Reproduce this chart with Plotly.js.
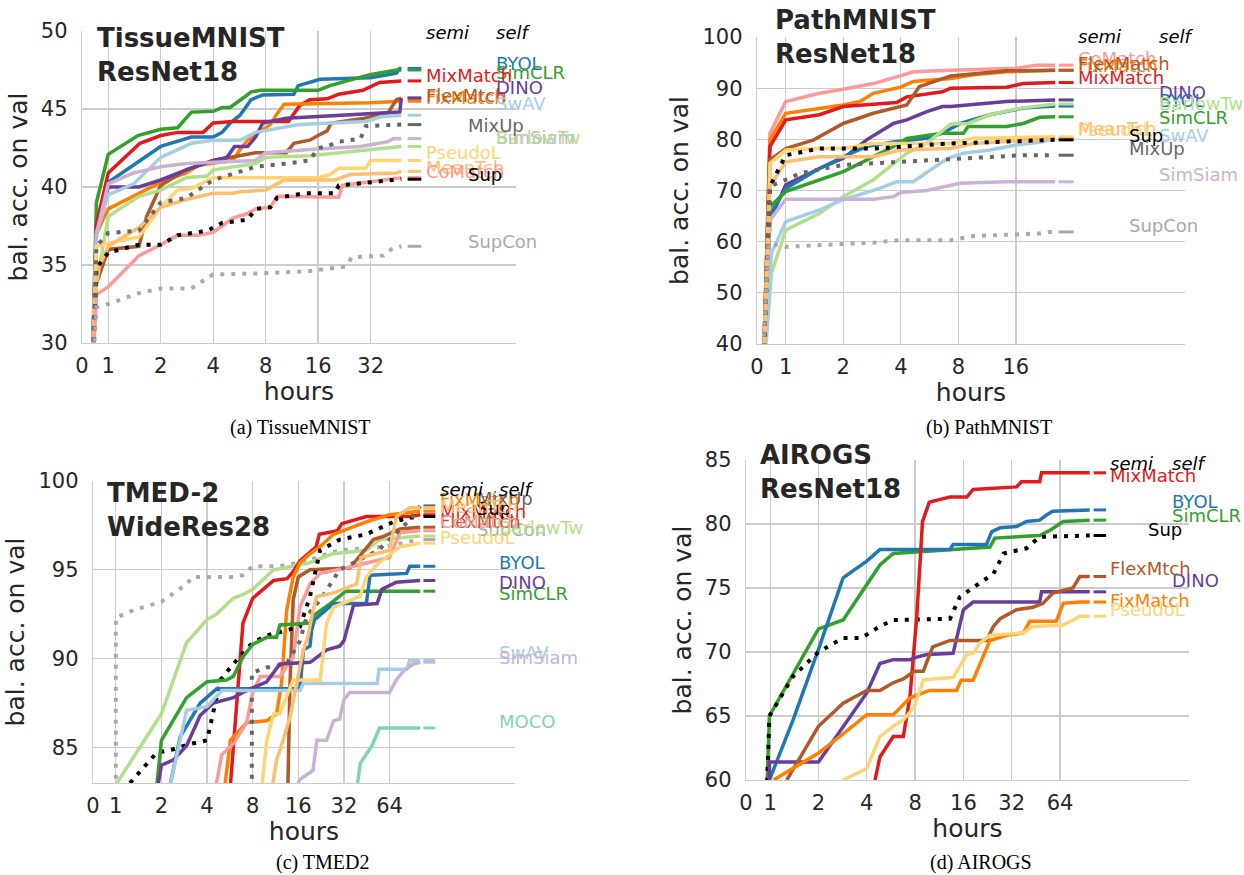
<!DOCTYPE html>
<html><head><meta charset="utf-8">
<script src="https://cdn.plot.ly/plotly-3.0.1.min.js"></script>
<style>html,body{margin:0;padding:0;background:#fff}#chart{width:1244px;height:875px}</style>
</head><body><div id="chart"></div>
<script>
// ===================== DATA (hours, balanced accuracy %) =====================
// (a) TissueMNIST ResNet18
const A_BYOL     = [[0.38,28],[0.55,37.4],[1,40.3],[2,42.6],[3,43.2],[4,43.2],[4.5,43.5],[5,44.1],[5.7,44.6],[6.6,45.6],[7.7,45.9],[11.6,45.95],[12.3,46.5],[16.4,46.9],[32,47.0],[45,47.3],[47,47.6],[48,47.6]];
const A_SimCLR   = [[0.38,28],[0.55,39.0],[1,42.1],[1.48,43.3],[2,43.7],[2.5,43.8],[3,44.8],[4,44.85],[4.5,45.1],[5,45.1],[6.1,45.8],[6.6,46.1],[7.5,46.2],[16,46.2],[18.7,46.5],[31.7,47.2],[45,47.5],[48,47.5]];
const A_MixMatch = [[0.38,28],[0.55,37.6],[1,40.9],[1.52,42.8],[2,43.3],[2.5,43.5],[3.5,43.5],[4,44.1],[5.2,44.2],[10.8,44.2],[12.5,45.2],[14.3,45.6],[18,45.65],[21,45.95],[28.9,46.2],[36,46.7],[48,46.8]];
const A_FixMatch = [[0.38,28],[0.55,37.0],[1,38.6],[1.5,39.6],[2,40.3],[2.8,40.9],[3.3,41.4],[5.2,41.7],[5.7,42.4],[6.3,43.0],[7.7,43.7],[8.5,44.0],[9.3,44.7],[10.2,45.3],[32,45.4],[48,45.5]];
const A_FlexMatch= [[0.38,28],[0.55,33.8],[1,36.0],[1.5,36.2],[1.66,38.1],[2,40.1],[2.8,41.1],[4,41.7],[7,42.2],[10.5,42.2],[11.6,42.8],[14.3,43.0],[16,43.3],[18,43.6],[19,44.1],[29,44.4],[40,44.7],[45,45.6],[48,45.7]];
const A_DINO     = [[0.38,28],[0.55,37.0],[1,40.0],[1.5,40.0],[2,40.45],[2.8,41.1],[4,41.7],[4.8,41.9],[5.3,42.6],[6.3,42.6],[7,43.2],[7.7,44.1],[10.5,44.4],[23,44.6],[47,44.8],[48,45.7]];
const A_SwAV     = [[0.38,28],[0.55,37.0],[1,39.5],[1.4,40.2],[2,41.9],[3,42.8],[4,43.0],[5.7,43.0],[7,43.5],[12.5,44.0],[30,44.2],[36.6,44.5],[48,44.6]];
const A_SimSiam  = [[0.38,28],[0.55,37.0],[1,40.2],[1.4,40.9],[2,41.3],[2.8,41.5],[7,41.7],[8,42.2],[14.3,42.4],[28,42.6],[40,42.9],[43,43.1],[48,43.1]];
const A_BarlowTw = [[0.38,28],[0.55,33.8],[1,38.1],[1.5,39.4],[2,39.8],[2.8,40.6],[3.7,40.7],[4,41.1],[7,41.5],[8,41.9],[14.3,42.0],[48,42.6]];
const A_PseudoL  = [[0.4,28],[0.55,36.2],[1,36.4],[1.5,36.8],[2,38.7],[2.5,39.8],[3,39.9],[4,40.6],[16,40.6],[18.7,40.8],[21,41.2],[30,41.2],[32,41.7],[48,41.7]];
const A_MeanTch  = [[0.4,28],[0.55,34.5],[1,36.2],[1.5,37.4],[2,38.7],[2.8,39.2],[4,39.6],[5.2,39.6],[5.7,39.7],[8,39.8],[9.3,40.2],[10.2,40.45],[20,40.45],[24.4,40.8],[45,40.9],[48,41.0]];
const A_CoMatch  = [[0.4,28],[0.55,33.1],[1,33.6],[1.5,35.6],[2,36.3],[2.5,36.9],[3.3,36.9],[4,37.1],[5.2,38.0],[6.3,38.3],[7,38.6],[8.5,38.7],[9.3,39.4],[21,39.35],[22,40.1],[40,40.5],[48,40.6]];
const A_Sup      = [[0.4,28],[0.55,34.8],[1,35.8],[1.5,36.3],[2,36.3],[2.5,36.9],[3.7,37.2],[4.5,37.7],[6.3,37.9],[7,38.6],[8.5,38.7],[9.3,39.3],[13.4,39.6],[20,39.6],[21,40.1],[45,40.45],[48,40.5]];
const A_MixUp    = [[0.4,28],[0.55,36.2],[1,37.05],[1.5,37.2],[2,39.0],[2.8,39.3],[4,40.45],[5.7,41.0],[7,41.3],[10.5,41.5],[14.3,41.7],[16,42.5],[18,42.6],[21,42.9],[28,43.1],[30,43.9],[48,44.0]];
const A_SupCon   = [[0.4,28],[0.55,32.3],[1,32.5],[1.5,33.2],[2,33.5],[3,33.5],[4,34.4],[7,34.45],[14,34.6],[23,34.9],[25,35.5],[38,35.6],[42,36.0],[48,36.2]];

// (b) PathMNIST ResNet18
const B_CoMatch  = [[0.22,35],[0.45,81.2],[1,87.4],[1.5,89.0],[2,89.8],[2.87,90.9],[3.97,92.4],[4.65,93.2],[7.3,93.5],[16,93.9],[20.5,94.5],[25.7,94.5]];
const B_FixMatch = [[0.22,35],[0.45,79.9],[1,85.1],[1.5,86.1],[2,86.7],[2.45,87.4],[2.87,89.0],[4,90.2],[4.65,91.3],[7.3,91.9],[9.6,92.6],[14.3,93.2],[25.7,93.5]];
const B_MixMatch = [[0.22,35],[0.45,78.6],[1,83.8],[1.5,84.8],[2,86.4],[3.1,87.0],[3.8,87.2],[4.3,88.3],[5.3,88.8],[6.6,89.3],[7.3,90.0],[14.3,90.2],[17.5,90.9],[25.7,91.1]];
const B_FlexMatch= [[0.22,35],[0.45,76.0],[1,78.2],[1.4,79.9],[2,83.1],[2.87,85.1],[4.3,86.7],[5.0,90.3],[7.3,92.4],[14.3,93.4],[25.7,93.5]];
const B_DINO     = [[0.22,35],[0.45,64.2],[1,71.1],[1.5,74.3],[2,76.3],[2.65,79.9],[3.66,83.1],[4.3,83.8],[5.47,85.4],[6.6,86.4],[7.3,86.4],[14.3,87.4],[25.7,87.7]];
const B_BYOL     = [[0.22,35],[0.45,65.2],[1,70.4],[1.5,74.3],[2,76.6],[2.65,78.6],[3.66,79.5],[5.47,80.2],[6.6,81.2],[7.3,82.0],[8.2,83.1],[11.7,84.8],[17.5,86.1],[25.7,86.5]];
const B_SimCLR   = [[0.22,35],[0.45,66.8],[1,69.8],[1.5,72.1],[2,73.7],[2.45,75.3],[3.66,78.6],[4.3,80.2],[6.6,81.2],[8.5,81.2],[9,82.5],[14.3,82.5],[17.5,83.1],[21.3,84.3],[25.7,84.4]];
const B_BarlowTw = [[0.25,35],[0.5,53.8],[1,62.3],[1.5,65.5],[2,68.8],[2.87,72.1],[4.3,77.3],[5.47,79.2],[7.3,83.0],[9,83.1],[11.7,84.8],[17,86.1],[25.7,86.9]];
const B_SwAV     = [[0.25,35],[0.5,57.7],[1,63.9],[1.5,66.2],[2,68.2],[3.1,70.4],[3.8,71.7],[4.65,71.7],[6.6,75.6],[7.3,76.5],[8.5,77.3],[11.7,77.9],[16,78.9],[22,79.5],[25.7,80.2]];
const B_SimSiam  = [[0.22,35],[0.45,64.2],[1,68.3],[2.87,68.3],[3.66,68.8],[4.0,69.6],[5.47,70.0],[6.6,70.7],[7.3,70.9],[8.2,71.4],[14.3,71.7],[25.7,71.7]];
const B_PseudoL  = [[0.22,35],[0.45,75.3],[1,77.9],[1.5,78.2],[2,78.2],[2.87,79.2],[7.3,79.2],[9.6,80.2],[25.7,80.5]];
const B_MeanTch  = [[0.22,35],[0.45,70.8],[1,75.6],[1.5,76.6],[2.87,76.6],[3.97,77.9],[7.3,78.2],[9.6,79.2],[25.7,80.2]];
const B_Sup      = [[0.22,35],[0.45,70.8],[1,76.9],[1.5,78.2],[2.87,78.2],[7.3,79.2],[25.7,79.9]];
const B_MixUp    = [[0.22,35],[0.45,70.8],[1,72.1],[1.2,73.4],[2,75.0],[2.87,75.3],[7.3,76.0],[17.5,76.9],[25.7,76.9]];
const B_SupCon   = [[0.18,35],[0.4,59.7],[1,59.0],[1.5,59.3],[2.87,59.8],[3.97,60.3],[7.3,60.3],[9.6,61.1],[21.3,61.6],[24,61.9],[25.7,61.9]];

// (c) TMED-2 WideRes28
const C_SupCon   = [[1,82],[1,92.3],[1.31,92.73],[2,93.2],[2.93,94.2],[3.2,94.6],[5.96,94.6],[6.9,94.7],[8,95.2],[12,95.2],[19,95.5],[21,95.7],[30,96.1],[60,96.3],[102,96.7]];
const C_BarlowTw = [[0.95,82.8],[2,86.9],[2.93,90.9],[4,92.2],[4.6,92.5],[5.96,93.4],[6.9,93.6],[8,93.9],[11,95.0],[19,95.4],[27,95.9],[45,96.1],[55,96.7],[102,96.9]];
const C_MixMatch = [[5.6,82],[5.96,85.1],[6.9,92.0],[8,93.4],[9.3,93.9],[11,94.4],[13.5,94.5],[14.8,94.9],[16.4,95.5],[19.1,96.0],[21,96.3],[22,97.0],[29,97.2],[31,97.6],[45,98.0],[87,98.0],[102,98.1]];
const C_FixMatch = [[5.1,82],[5.7,85.4],[7.3,86.4],[9.9,86.5],[11.5,86.9],[12.4,88.6],[13.4,92.7],[14.8,94.6],[16.4,95.4],[19.1,95.9],[22.3,96.3],[27.3,97.0],[45,97.7],[64,98.1],[102,98.3]];
const C_FlexMatch= [[13.6,82],[14.1,88.6],[14.8,93.3],[16,94.6],[19.1,95.0],[35,95.1],[50,96.7],[59,96.9],[75,97.3],[102,97.4]];
const C_CoMatch  = [[4.4,82],[5.0,84.6],[5.96,85.2],[7.3,86.4],[8,88.1],[9,89.0],[12.1,89.0],[14.8,90.1],[16.4,92.9],[19.1,94.2],[22.3,94.8],[33,95.1],[64,95.7],[75,97.1],[102,97.2]];
const C_Sup      = [[1.24,83],[1.44,83.6],[1.86,84.7],[2.4,84.9],[3.1,85.2],[4,85.4],[4.4,86.9],[4.9,88.8],[5.96,89.7],[8,90.9],[9.9,91.3],[13.4,91.6],[16.4,91.8],[19.1,93.5],[22.3,96.1],[30,96.7],[45,97.0],[68,97.7],[83,97.9],[102,98.0]];
const C_MixUp    = [[7.9,82],[7.9,89.2],[9.9,89.5],[13.4,89.7],[16.4,91.0],[18.2,92.4],[22.3,93.3],[30,95.0],[54,96.1],[87,97.8],[102,98.6]];
const C_SimCLR   = [[1.82,82],[2,85.4],[2.93,87.8],[4,88.7],[5.38,88.8],[5.96,89.0],[6.9,90.1],[8,90.8],[9.9,91.2],[11.5,91.2],[12.1,91.9],[19.1,92.0],[20,92.4],[26,93.1],[33,93.8],[102,93.8]];
const C_BYOL     = [[2.17,82],[2.66,85.6],[3.6,87.5],[4.63,88.3],[16.4,88.3],[17.3,90.5],[19.1,90.7],[19.6,91.6],[20.5,92.2],[27.3,93.1],[45,93.1],[47.6,94.7],[83,94.8],[87,95.2],[102,95.2]];
const C_DINO     = [[1.91,83],[2,84.0],[2.4,84.3],[2.93,85.1],[3.6,86.8],[4.4,87.5],[5.96,87.8],[6.9,88.1],[9.9,88.7],[12.1,89.7],[19.1,89.8],[20,89.9],[24.6,90.5],[30,90.7],[32,91.0],[37,93.0],[53,93.1],[57,93.9],[71,94.3],[102,94.4]];
const C_SwAV     = [[2.17,82],[2.93,87.1],[4,87.3],[5.0,88.2],[16.4,88.2],[17.3,88.6],[53,88.6],[54.5,89.4],[83,89.4],[87,89.9],[102,89.9]];
const C_SimSiam  = [[15,82.5],[16.4,83.2],[20,83.7],[21.2,85.4],[24.6,85.4],[27.3,86.5],[30,86.6],[32,87.7],[35,88.1],[64,88.1],[71,88.8],[79,89.3],[92,89.7],[102,89.8]];
const C_MOCO     = [[38,82],[41,84.1],[49,85.1],[55,86.1],[102,86.1]];
const C_PseudoL  = [[9.0,82],[9.9,85.4],[11,86.9],[12.1,86.9],[14.8,88.8],[22.3,88.8],[24.6,92.0],[27.3,92.9],[40.8,93.5],[45,94.6],[53,95.3],[75,96.3],[102,96.5]];
const C_MeanTch  = [[10.4,82],[11.5,84.3],[12.7,85.4],[14.1,86.7],[15.6,88.6],[17.3,90.5],[18.5,91.2],[20,92.7],[21.2,93.5],[27.3,93.7],[38.8,94.2],[41.6,95.7],[64,96.1],[71,98.0],[87,98.5],[102,98.5]];

// (d) AIROGS ResNet18
const D_SimCLR   = [[0.86,59],[0.97,65],[1.39,68.3],[2,71.8],[2.85,72.5],[4,75.2],[4.83,76.8],[5.85,77.7],[8,77.8],[13.2,78.0],[23.4,78.2],[25.1,78.9],[47.8,79.1],[55.3,79.5],[67,80.2],[98,80.3]];
const D_BYOL     = [[0.97,60],[1.39,64.7],[2,70.2],[2.85,75.8],[4,77.1],[4.83,78.0],[13.2,78.0],[13.8,78.4],[22.3,78.4],[24,79.4],[27.1,79.7],[34.3,79.8],[39.6,80.2],[47.8,80.3],[52.7,80.7],[57.7,81.0],[98,81.1]];
const D_Sup      = [[0.86,59],[0.97,65],[1.39,68.1],[2,70.0],[2.85,71.1],[3.7,71.1],[4.83,72.0],[5.85,72.5],[13.2,72.6],[15.2,74.3],[20.3,75.4],[24.6,76.1],[28.5,77.7],[39.6,78.1],[47.8,79.0],[98,79.1]];
const D_MixMatch = [[4.5,60],[4.83,61.8],[5.85,63.4],[6.76,63.4],[7.43,66.5],[8.2,72.8],[8.9,80.2],[9.8,81.7],[11.3,81.9],[13.2,82.1],[16.8,82.1],[18.4,82.7],[34.3,82.9],[36.8,83.3],[47.8,83.3],[49.1,84.0],[98,84.0]];
const D_DINO     = [[0.97,59],[0.97,61.4],[2,61.4],[2.85,64.2],[4,66.8],[4.83,69.1],[5.85,69.4],[7.43,69.4],[8.2,69.6],[9.5,69.8],[13.8,69.9],[16,73.3],[18.4,73.9],[47.8,73.9],[49.1,74.7],[98,74.7]];
const D_FlexMatch= [[1.27,60],[2,64.2],[2.85,66.0],[4,67.0],[4.83,67.0],[5.85,67.6],[6.76,67.9],[7.9,68.5],[9,68.5],[10.3,70.4],[13.2,70.9],[22.3,70.9],[24.6,72.0],[27.1,72.6],[34.3,73.3],[43.4,73.5],[50.2,73.8],[57.7,74.6],[77,75.0],[85,75.9],[98,75.9]];
const D_FixMatch = [[1.05,60],[2,62.1],[2.85,63.6],[4,65.1],[5.85,65.1],[7.43,66.4],[9.8,67.0],[14.5,67.0],[15.5,67.8],[18.4,67.8],[23.4,70.9],[29.7,71.3],[37.8,71.5],[41.5,72.4],[60.6,72.4],[67,73.8],[85,73.9],[98,73.9]];
const D_PseudoL  = [[2.85,60],[4,60.9],[4.83,63.4],[5.85,64.2],[6.76,64.7],[7.9,65.7],[9,67.8],[10.3,67.9],[13.8,68.0],[15.2,68.9],[16.8,69.8],[18.4,69.9],[20.3,70.7],[23.4,71.3],[37.8,71.5],[43.4,72.0],[67,72.1],[77,72.5],[85,72.8],[98,72.8]];

// tick labels
const ticksA_x = [0,1,2,4,8,16,32];
const ticksB_x = [0,1,2,4,8,16];
const ticksCD_x = [0,1,2,4,8,16,32,64];
const ticksA_y = [30,35,40,45,50];
const ticksB_y = [40,50,60,70,80,90,100];
const ticksC_y = [85,90,95,100];
const ticksD_y = [60,65,70,75,80,85];

// ===================== STYLE =====================
const COLOR = {
  SwAV:'#a6cee3', BYOL:'#1f78b4', BarlowTw:'#b2df8a', SimCLR:'#33a02c',
  CoMatch:'#fb9a99', MixMatch:'#e31a1c', MeanTch:'#fdbf6f', FixMatch:'#ff7f00',
  SimSiam:'#cab2d6', DINO:'#6a3d9a', PseudoL:'#fed572', FlexMatch:'#b15928',
  MOCO:'#7fd3b8', Sup:'#000000', MixUp:'#666666', SupCon:'#aaaaaa'
};
const DOTTED = {Sup:true, MixUp:true, SupCon:true};
const GROUP = {MixMatch:'semi',FixMatch:'semi',FlexMatch:'semi',PseudoL:'semi',MeanTch:'semi',CoMatch:'semi',
               Sup:'mid',MixUp:'mid',SupCon:'mid',
               BYOL:'self',SimCLR:'self',DINO:'self',SwAV:'self',BarlowTw:'self',SimSiam:'self',MOCO:'self'};

const W = 1244, H = 875;
const tf = h => h <= 1 ? 0.5*h : 0.5 + Math.log2(h);

const panels = [
  {ax:'', box:[82,516,31,343], xmax:8.27, yr:[30,50], xt:ticksA_x, yt:ticksA_y, gap:0.12,
   cols:{semi:424, mid:466, self:494}, head:33, title:'TissueMNIST<br>ResNet18', tpos:[95,55],
   caption:'(a) TissueMNIST', cap:[300,428], flexLabel:'FlexMtch',
   series:{BYOL:A_BYOL,SimCLR:A_SimCLR,MixMatch:A_MixMatch,FixMatch:A_FixMatch,FlexMatch:A_FlexMatch,DINO:A_DINO,SwAV:A_SwAV,
           SimSiam:A_SimSiam,BarlowTw:A_BarlowTw,PseudoL:A_PseudoL,MeanTch:A_MeanTch,CoMatch:A_CoMatch,Sup:A_Sup,MixUp:A_MixUp,SupCon:A_SupCon},
   nudge:{BYOL:5,SimCLR:-2,MixMatch:5,DINO:11,FlexMatch:3,FixMatch:4,SwAV:12,MixUp:-1,BarlowTw:9,SimSiam:1,PseudoL:8,MeanTch:4,CoMatch:6,Sup:5,SupCon:5}},
  {ax:'2', box:[757,1185,37,344], xmax:7.44, yr:[40,100], xt:ticksB_x, yt:ticksB_y, gap:0.06,
   cols:{semi:1076, mid:1127, self:1157}, head:37, title:'PathMNIST<br>ResNet18', tpos:[773,37],
   caption:'(b) PathMNIST', cap:[989,428], flexLabel:'FlexMatch',
   series:{CoMatch:B_CoMatch,FixMatch:B_FixMatch,MixMatch:B_MixMatch,FlexMatch:B_FlexMatch,DINO:B_DINO,BYOL:B_BYOL,SimCLR:B_SimCLR,
           BarlowTw:B_BarlowTw,SwAV:B_SwAV,SimSiam:B_SimSiam,PseudoL:B_PseudoL,MeanTch:B_MeanTch,Sup:B_Sup,MixUp:B_MixUp,SupCon:B_SupCon},
   nudge:{CoMatch:7,FlexMatch:7,FixMatch:5,MixMatch:5,DINO:7,BYOL:6,BarlowTw:1,SimCLR:-1,MeanTch:10,PseudoL:7,Sup:4,SwAV:3,MixUp:7,SimSiam:7,SupCon:6}},
  {ax:'3', box:[93,515,481,783], xmax:9.25, yr:[83,100], xt:ticksCD_x, yt:ticksC_y, gap:0.07,
   cols:{semi:438, mid:475, self:497}, head:489, title:'TMED-2<br>WideRes28', tpos:[105,510],
   caption:'(c) TMED2', cap:[323,862], flexLabel:'FlexMtch',
   series:{SupCon:C_SupCon,BarlowTw:C_BarlowTw,MixMatch:C_MixMatch,FixMatch:C_FixMatch,FlexMatch:C_FlexMatch,CoMatch:C_CoMatch,Sup:C_Sup,
           MixUp:C_MixUp,SimCLR:C_SimCLR,BYOL:C_BYOL,DINO:C_DINO,SwAV:C_SwAV,SimSiam:C_SimSiam,MOCO:C_MOCO,PseudoL:C_PseudoL,MeanTch:C_MeanTch},
   nudge:{FixMatch:12,MixUp:7,MeanTch:1,Sup:8,MixMatch:3,FlexMatch:6,CoMatch:9,SupCon:10,BarlowTw:9,PseudoL:6,BYOL:4,DINO:-2,SimCLR:-2,SwAV:8,SimSiam:5,MOCO:6}},
  {ax:'4', box:[746,1189,460,780], xmax:9.17, yr:[60,85], xt:ticksCD_x, yt:ticksD_y, gap:0.08,
   cols:{semi:1108, mid:1146, self:1170}, head:464, title:'AIROGS<br>ResNet18', tpos:[758,472],
   caption:'(d) AIROGS', cap:[981,862], flexLabel:'FlexMtch',
   series:{SimCLR:D_SimCLR,BYOL:D_BYOL,Sup:D_Sup,MixMatch:D_MixMatch,DINO:D_DINO,FlexMatch:D_FlexMatch,FixMatch:D_FixMatch,PseudoL:D_PseudoL},
   nudge:{MixMatch:-3,BYOL:8,SimCLR:5,Sup:6,FlexMatch:8,DINO:11,FixMatch:2,PseudoL:7}}
];

const traces = [];
const annotations = [];
const layout = {
  width: W, height: H, margin:{l:0,r:0,t:0,b:0}, showlegend:false,
  paper_bgcolor:'#ffffff', plot_bgcolor:'#ffffff',
  font:{family:'DejaVu Sans', color:'#262626'}
};

panels.forEach(p => {
  const xa = 'x'+p.ax, ya = 'y'+p.ax;
  const [x0,x1,y0,y1] = p.box;
  const axCommon = {showgrid:true, gridcolor:'#cccccc', gridwidth:1.3, zeroline:false,
    showline:true, linecolor:'#cccccc', linewidth:1.3, ticks:'outside', tickcolor:'rgba(0,0,0,0)',
    tickfont:{size:21, color:'#262626', family:'DejaVu Sans'}, fixedrange:true};
  layout['xaxis'+p.ax] = Object.assign({}, axCommon, {
    domain:[x0/W, x1/W], anchor:ya, range:[0,p.xmax], ticklen:3,
    tickmode:'array', tickvals:p.xt.map(tf), ticktext:p.xt.map(String),
    title:{text:'hours', font:{size:25, color:'#262626'}, standoff:6}
  });
  layout['yaxis'+p.ax] = Object.assign({}, axCommon, {
    domain:[1-y1/H, 1-y0/H], anchor:xa, range:p.yr, ticklen:9,
    tickmode:'array', tickvals:p.yt, ticktext:p.yt.map(String),
    title:{text:'bal. acc. on val', font:{size:25, color:'#262626'}, standoff:6}
  });

  // end of data in transformed units
  let tEnd = 0;
  Object.values(p.series).forEach(d => { tEnd = Math.max(tEnd, tf(d[d.length-1][0])); });

  Object.entries(p.series).forEach(([name, d]) => {
    const c = COLOR[name];
    const dotted = !!DOTTED[name];
    traces.push({type:'scatter', mode:'lines', xaxis:xa, yaxis:ya, name:name,
      x:d.map(q=>tf(q[0])), y:d.map(q=>q[1]),
      line:{color:c, width: dotted?4:3.5, dash: dotted?'4px,7px':'solid'}, hoverinfo:'skip'});
    const last = d[d.length-1][1];
    traces.push({type:'scatter', mode:'lines', xaxis:xa, yaxis:ya, showlegend:false,
      x:[tEnd+p.gap, tEnd+p.gap+0.26], y:[last,last], line:{color:c, width:3}, hoverinfo:'skip'});
    const label = name==='FlexMatch' ? p.flexLabel : name;
    annotations.push({xref:'paper', yref:ya, x:p.cols[GROUP[name]]/W, y:last, yshift:p.nudge[name]||5,
      xanchor:'left', yanchor:'middle', text:label, showarrow:false,
      font:{family:'DejaVu Sans', size:18, color:c}});
  });

  // column headers
  annotations.push({xref:'paper', yref:'paper', x:p.cols.semi/W, y:1-p.head/H, xanchor:'left', yanchor:'middle',
    text:'<i>semi</i>', showarrow:false, font:{family:'DejaVu Sans', size:18, color:'#000'}});
  annotations.push({xref:'paper', yref:'paper', x:p.cols.self/W, y:1-p.head/H, xanchor:'left', yanchor:'middle',
    text:'<i>self</i>', showarrow:false, font:{family:'DejaVu Sans', size:18, color:'#000'}});
  // panel title
  annotations.push({xref:'paper', yref:'paper', x:p.tpos[0]/W, y:1-p.tpos[1]/H, xanchor:'left', yanchor:'middle', align:'left',
    text:'<b>'+p.title.replace('<br>','</b><br><b>')+'</b>', showarrow:false,
    font:{family:'DejaVu Sans', size:26, color:'#262626'}});
  // caption
  annotations.push({xref:'paper', yref:'paper', x:p.cap[0]/W, y:1-p.cap[1]/H, xanchor:'center', yanchor:'middle',
    text:p.caption, showarrow:false, font:{family:'Liberation Serif', size:20, color:'#000'}});
});

layout.annotations = annotations;
Plotly.newPlot('chart', traces, layout, {displayModeBar:false, staticPlot:true});
</script></body></html>
